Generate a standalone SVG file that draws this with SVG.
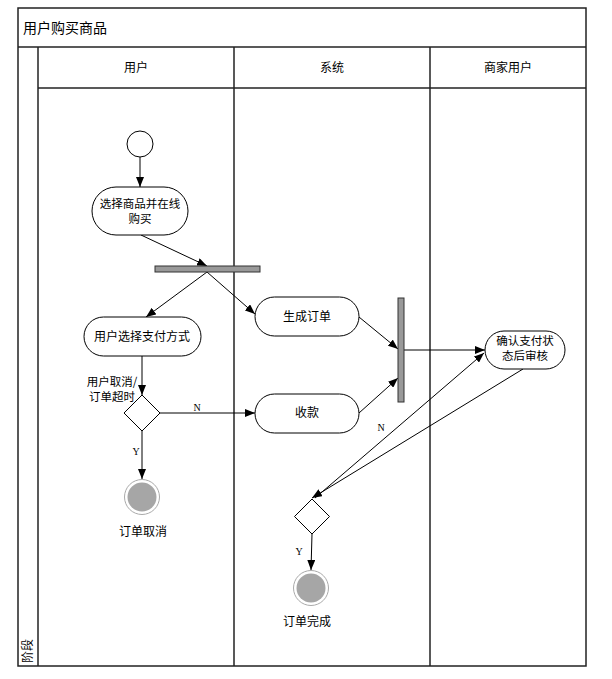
<svg xmlns="http://www.w3.org/2000/svg" width="612" height="679" viewBox="0 0 612 679">
<defs>
<marker id="arr" markerWidth="10" markerHeight="8" refX="10" refY="4" orient="auto" markerUnits="userSpaceOnUse">
<path d="M0,0 L10,4 L0,8 Z" fill="#000"/>
</marker>
<style>
.frame{fill:none;stroke:#222;stroke-width:1.5}
.act{fill:#fff;stroke:#000;stroke-width:1}
.t{font-family:"Noto Sans CJK SC","Liberation Sans",sans-serif;font-size:12px;fill:#000;text-anchor:middle}
.t2{font-family:"Noto Sans CJK SC","Liberation Sans",sans-serif;font-size:11.5px;fill:#000;text-anchor:middle}
.lbl{font-family:"Liberation Serif",serif;font-size:10px;fill:#000;text-anchor:middle}
.c{fill:none;stroke:#000;stroke-width:1;marker-end:url(#arr)}
.bar{fill:#999;stroke:#333;stroke-width:1}
</style>
</defs>
<rect x="0" y="0" width="612" height="679" fill="#fff"/>
<g id="frame">
<rect x="18" y="8" width="568" height="658" class="frame"/>
<line x1="18" y1="47" x2="586" y2="47" class="frame"/>
<line x1="38" y1="47" x2="38" y2="666" class="frame"/>
<line x1="38" y1="88" x2="586" y2="88" class="frame"/>
<line x1="234" y1="47" x2="234" y2="666" class="frame"/>
<line x1="430" y1="47" x2="430" y2="666" class="frame"/>
<text x="23" y="33" style="font-family:'Noto Sans CJK SC',sans-serif;font-size:14px">用户购买商品</text>
<text x="136" y="72" class="t">用户</text>
<text x="332" y="72" class="t">系统</text>
<text x="508" y="72" class="t">商家用户</text>
<text transform="translate(32,651) rotate(-90)" class="t">阶段</text>
</g>
<g id="connectors">
<line x1="140" y1="157" x2="140" y2="187" class="c"/>
<line x1="141" y1="235" x2="207" y2="266" class="c"/>
<line x1="207" y1="272" x2="146" y2="317" class="c"/>
<line x1="207" y1="272" x2="255" y2="314" class="c"/>
<line x1="142" y1="356" x2="142" y2="395" class="c"/>
<line x1="160" y1="413" x2="255" y2="413" class="c"/>
<text x="197" y="411" class="lbl">N</text>
<line x1="142" y1="431" x2="142" y2="479" class="c"/>
<text x="136" y="455" class="lbl">Y</text>
<line x1="359" y1="317" x2="398" y2="349" class="c"/>
<line x1="359" y1="413" x2="398" y2="378" class="c"/>
<line x1="404" y1="350" x2="485" y2="350" class="c"/>
<line x1="523" y1="369" x2="312" y2="498" class="c"/>
<line x1="315" y1="498" x2="484" y2="353" class="c"/>
<text x="381" y="431" class="lbl">N</text>
<line x1="312" y1="534" x2="311" y2="570" class="c"/>
<text x="299" y="555" class="lbl">Y</text>
</g>
<g id="start"><circle cx="140" cy="144" r="13" class="act"/></g>
<g id="a1">
<rect x="92" y="187" width="96" height="48" rx="24" class="act"/>
<text x="140" y="208" class="t2">选择商品并在线</text>
<text x="140" y="223" class="t2">购买</text>
</g>
<g id="fork"><rect x="155" y="266" width="105" height="6" class="bar"/></g>
<g id="a2">
<rect x="84" y="317" width="117" height="39" rx="19.5" class="act"/>
<text x="142" y="341" class="t">用户选择支付方式</text>
</g>
<g id="a3">
<rect x="255" y="297" width="104" height="39" rx="19.5" class="act"/>
<text x="307" y="321" class="t">生成订单</text>
</g>
<g id="a4">
<rect x="255" y="394" width="104" height="39" rx="19.5" class="act"/>
<text x="307" y="417" class="t">收款</text>
</g>
<g id="join"><rect x="398" y="298" width="6" height="104" class="bar"/></g>
<g id="a5">
<rect x="485" y="331" width="80" height="38" rx="19" class="act"/>
<text x="525" y="345" class="t2">确认支付状</text>
<text x="525" y="360" class="t2">态后审核</text>
</g>
<g id="d1">
<polygon points="142,395 160,413 142,431 124,413" class="act"/>
<text x="112" y="386" class="t2">用户取消/</text>
<text x="112" y="401" class="t2">订单超时</text>
</g>
<g id="end1">
<circle cx="142" cy="497" r="17.5" fill="#fff" stroke="#aaa" stroke-width="1"/>
<circle cx="142" cy="497" r="14.5" fill="#a6a6a6"/>
<text x="143" y="536" class="t">订单取消</text>
</g>
<g id="d2">
<polygon points="312,499 329.5,516.5 312,534 294.5,516.5" class="act"/>
</g>
<g id="end2">
<circle cx="311" cy="588" r="17.5" fill="#fff" stroke="#aaa" stroke-width="1"/>
<circle cx="311" cy="588" r="14.5" fill="#a6a6a6"/>
<text x="307" y="626" class="t">订单完成</text>
</g>
</svg>
